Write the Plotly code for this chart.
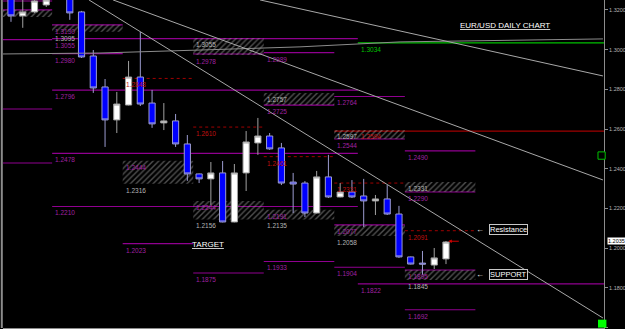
import plotly.graph_objects as go

# ---------------- candles (daily bars, index = bar number) ----------------
day = [0, 1, 2, 3, 5, 6, 7, 8, 9, 10, 11, 12, 13, 14, 15, 16, 17, 18, 19, 20,
       21, 22, 23, 24, 25, 26, 27, 28, 29, 30, 31, 32, 33, 34, 35, 36, 37]
open_ = [1.3270, 1.3170, 1.3190, 1.3225, 1.3260, 1.3190, 1.2968, 1.2812, 1.2646, 1.2721,
         1.2862, 1.2731, 1.2631, 1.2641, 1.2525, 1.2374, 1.2349, 1.2379, 1.2132, 1.2379,
         1.2530, 1.2565, 1.2505, 1.2333, 1.2328, 1.2177, 1.2359, 1.2258, 1.2283, 1.2263,
         1.2238, 1.2248, 1.2172, 1.1956, 1.1925, 1.1915, 1.1946]
high = [1.3285, 1.3255, 1.3255, 1.3260, 1.3275, 1.3195, 1.2998, 1.2852, 1.2787, 1.2943,
        1.3089, 1.2797, 1.2731, 1.2676, 1.2570, 1.2376, 1.2434, 1.2439, 1.2424, 1.2590,
        1.2656, 1.2580, 1.2530, 1.2379, 1.2338, 1.2389, 1.2470, 1.2328, 1.2343, 1.2349,
        1.2268, 1.2318, 1.2213, 1.1958, 1.1986, 1.2001, 1.2036]
low = [1.3140, 1.3110, 1.3185, 1.3215, 1.3150, 1.2958, 1.2782, 1.2510, 1.2580, 1.2719,
       1.2716, 1.2606, 1.2595, 1.2510, 1.2339, 1.2328, 1.2218, 1.2130, 1.2130, 1.2288,
       1.2470, 1.2495, 1.2318, 1.2177, 1.2157, 1.2175, 1.2253, 1.2256, 1.2253, 1.2107,
       1.2167, 1.2167, 1.1951, 1.1918, 1.1865, 1.1895, 1.1920]
close = [1.3170, 1.3190, 1.3245, 1.3250, 1.3185, 1.2963, 1.2807, 1.2646, 1.2726, 1.2862,
         1.2726, 1.2626, 1.2641, 1.2525, 1.2374, 1.2349, 1.2379, 1.2132, 1.2379, 1.2535,
         1.2565, 1.2500, 1.2328, 1.2323, 1.2177, 1.2359, 1.2258, 1.2283, 1.2258, 1.2238,
         1.2248, 1.2172, 1.1956, 1.1920, 1.1920, 1.1951, 1.2031]

# ---------------- pivot / level lines ----------------
purple_price = [1.3245, 1.3200, 1.3050, 1.2701, 1.2429, 1.3055, 1.3125, 1.2980, 1.2796, 1.2478,
                1.2210, 1.2023, 1.2978, 1.1875, 1.2985, 1.2721, 1.1933, 1.2764, 1.2550, 1.2117,
                1.1904, 1.1820, 1.2490, 1.2283, 1.1890, 1.1690]
purple_x0 = [-1, -1, -1, -1, -1, 3.5, 3.5, 3.5, 3.5, 3.5,
             3.5, 9.5, 15.5, 15.5, 21.5, 21.5, 21.5, 27.5, 27.5, 27.5,
             27.5, 29.5, 33.5, 33.5, 33.5, 33.5]
purple_x1 = [3.5, 3.5, 3.5, 3.5, 3.5, 29.5, 9.5, 9.5, 29.5, 29.5,
             29.5, 15.5, 21.5, 21.5, 27.5, 27.5, 27.5, 33.5, 33.5, 33.5,
             33.5, 50.5, 39.5, 39.5, 39.5, 39.5]

red_dot_price = [1.2855, 1.2610, 1.2461, 1.2328, 1.2088]
red_dot_x0 = [9.5, 15.5, 21.5, 27.5, 33.5]
red_dot_x1 = [15.5, 21.5, 27.5, 33.5, 39.5]

red_solid_price = [1.2590]
red_solid_x0 = [27.5]
red_solid_x1 = [50.5]

green_price = [1.3034]
green_x0 = [29.5]
green_x1 = [50.5]

# hatched zones
zone_x0 = [-1, 3.5, 9.5, 15.5, 15.5, 21.5, 21.5, 27.5, 27.5, 33.5, 33.5]
zone_x1 = [3.5, 9.5, 15.5, 21.5, 21.5, 27.5, 27.5, 33.5, 33.5, 39.5, 39.5]
zone_lo = [1.3165, 1.3090, 1.2325, 1.2973, 1.2145, 1.2721, 1.2145, 1.2550, 1.2061, 1.2283, 1.1840]
zone_hi = [1.3200, 1.3125, 1.2440, 1.3059, 1.2238, 1.2782, 1.2193, 1.2595, 1.2117, 1.2333, 1.1890]

# level labels: text, x start, price, kind
label_text = ["1.2980", "1.2796", "1.2478", "1.2210", "1.3055", "1.3130", "1.2444", "1.2023",
              "1.2978", "1.2244", "1.1875", "1.2989", "1.2725", "1.2191", "1.1933", "1.2764",
              "1.2544", "1.2077", "1.1904", "1.1822", "1.2490", "1.2290", "1.1895", "1.1692",
              "1.3095", "1.2316", "1.3055", "1.2156", "1.2757", "1.2135", "1.2597", "1.2058",
              "1.2331", "1.1845",
              "1.2848", "1.2610", "1.2461", "1.2594", "1.2331", "1.2091",
              "1.3034"]
label_x = [3.5, 3.5, 3.5, 3.5, 3.5, 3.5, 9.5, 9.5,
           15.5, 15.5, 15.5, 21.5, 21.5, 21.5, 21.5, 27.5,
           27.5, 27.5, 27.5, 29.5, 33.5, 33.5, 33.5, 33.5,
           3.5, 9.5, 15.5, 15.5, 21.5, 21.5, 27.5, 27.5,
           33.5, 33.5,
           9.5, 15.5, 21.5, 29.5, 27.5, 33.5,
           29.5]
label_price = [1.2980, 1.2796, 1.2478, 1.2210, 1.3055, 1.3125, 1.2440, 1.2023,
               1.2973, 1.2238, 1.1875, 1.2985, 1.2721, 1.2193, 1.1933, 1.2764,
               1.2550, 1.2117, 1.1904, 1.1820, 1.2490, 1.2283, 1.1890, 1.1690,
               1.3090, 1.2325, 1.3059, 1.2145, 1.2782, 1.2145, 1.2595, 1.2061,
               1.2333, 1.1840,
               1.2855, 1.2610, 1.2461, 1.2595, 1.2328, 1.2088,
               1.3034]
label_kind = ["p"] * 24 + ["g"] * 10 + ["r"] * 6 + ["G"]

# trend lines
trend_x0 = [6.63, 21.18, 8.68]
trend_p0 = [1.32504, 1.32504, 1.32504]
trend_x1 = [50.35, 50.35, 50.35]
trend_p1 = [1.16484, 1.28675, 1.23436]

# slow moving average
ma_x = [-0.94, 7.57, 16.08, 24.58, 33.09, 41.59, 50.35]
ma_y = [1.2978, 1.2983, 1.2998, 1.3014, 1.3039, 1.3046, 1.3054]

y_ticks = [1.16, 1.18, 1.20, 1.22, 1.24, 1.26, 1.28, 1.30, 1.32]
last_price = 1.2035

PURPLE = "#900090"
PURPLE_TXT = "#a020a0"
GRAY_TXT = "#b4b4b4"
RED_LINE = "#a00000"
RED_TXT = "#c01010"
GREEN = "#00c000"
FONT = "Liberation Sans"

fig = go.Figure()

fig.add_trace(go.Scatter(x=ma_x, y=ma_y, mode="lines",
                         line=dict(color="#8c8c8c", width=1), hoverinfo="skip"))

fig.add_trace(go.Candlestick(
    x=day, open=open_, high=high, low=low, close=close,
    increasing=dict(fillcolor="#ffffff", line=dict(color="#a0a0a0", width=1)),
    decreasing=dict(fillcolor="#0000ff", line=dict(color="#9c9cd0", width=1)),
    whiskerwidth=0))

fig.add_trace(go.Bar(
    x=[(a + b) / 2 for a, b in zip(zone_x0, zone_x1)],
    y=[h - l for h, l in zip(zone_hi, zone_lo)],
    base=zone_lo,
    width=[b - a for a, b in zip(zone_x0, zone_x1)],
    marker=dict(color="rgba(0,0,0,0)", line=dict(width=0),
                pattern=dict(shape="/", fgcolor="#a0a0a0", bgcolor="rgba(0,0,0,0)",
                             size=4, solidity=0.35, fillmode="overlay")),
    hoverinfo="skip"))

shapes = []
for p, a, b in zip(purple_price, purple_x0, purple_x1):
    shapes.append(dict(type="line", x0=a, x1=b, y0=p, y1=p, layer="below",
                       line=dict(color=PURPLE, width=1.2)))
for p, a, b in zip(red_dot_price, red_dot_x0, red_dot_x1):
    shapes.append(dict(type="line", x0=a, x1=b, y0=p, y1=p, layer="below",
                       line=dict(color=RED_LINE, width=1, dash="dot")))
for p, a, b in zip(red_solid_price, red_solid_x0, red_solid_x1):
    shapes.append(dict(type="line", x0=a, x1=b, y0=p, y1=p, layer="below",
                       line=dict(color=RED_LINE, width=1.2)))
for p, a, b in zip(green_price, green_x0, green_x1):
    shapes.append(dict(type="line", x0=a, x1=b, y0=p, y1=p, layer="below",
                       line=dict(color=GREEN, width=1.2)))
for a, pa, b, pb in zip(trend_x0, trend_p0, trend_x1, trend_p1):
    shapes.append(dict(type="line", x0=a, x1=b, y0=pa, y1=pb, layer="above",
                       line=dict(color="#a8a8a8", width=1)))
# left frame line
shapes.append(dict(type="line", xref="paper", yref="paper", x0=-0.002, x1=-0.002, y0=0, y1=1,
                   line=dict(color="#8c8c8c", width=2)))
# small markers on right edge
shapes.append(dict(type="rect", xref="paper", x0=0.990, x1=1.002, y0=1.2448, y1=1.2485,
                   line=dict(color=GREEN, width=1), fillcolor="#000000"))
shapes.append(dict(type="rect", xref="paper", x0=0.990, x1=1.004, y0=1.1600, y1=1.1640,
                   line=dict(width=0), fillcolor="#00ff00"))

annotations = []
color_map = {"p": PURPLE_TXT, "g": GRAY_TXT, "r": RED_TXT, "G": GREEN}
for t, x, p, k in zip(label_text, label_x, label_price, label_kind):
    annotations.append(dict(x=x, y=p, text=t, showarrow=False, xanchor="left", yanchor="top",
                            xshift=1, yshift=-1,
                            font=dict(family=FONT, size=6.5, color=color_map[k])))

annotations += [
    dict(x=42.0, y=1.3124, text="EUR/USD DAILY CHART", showarrow=False,
         font=dict(family=FONT, size=8, color="#ffffff", lineposition="under")),
    dict(x=16.75, y=1.2021, text="TARGET", showarrow=False,
         font=dict(family=FONT, size=8, color="#ffffff", lineposition="under")),
    dict(x=42.35, y=1.2092, text="Resistance", showarrow=False, bordercolor="#c8c8c8",
         borderwidth=1, borderpad=0, bgcolor="#000000",
         font=dict(family=FONT, size=7.5, color="#ffffff")),
    dict(x=39.9, y=1.2092, text="←", showarrow=False,
         font=dict(family=FONT, size=8, color="#ffffff")),
    dict(x=42.35, y=1.1868, text="SUPPORT", showarrow=False, bordercolor="#c8c8c8",
         borderwidth=1, borderpad=0, bgcolor="#000000",
         font=dict(family=FONT, size=7.5, color="#ffffff")),
    dict(x=39.9, y=1.1868, text="←", showarrow=False,
         font=dict(family=FONT, size=8, color="#ffffff")),
    dict(x=37.2, y=last_price, ax=12, ay=0, text="", showarrow=True, arrowhead=2,
         arrowsize=0.7, arrowwidth=1, arrowcolor="#d00000"),
    dict(xref="paper", x=1, y=last_price, text=f"{last_price:.4f}", showarrow=False,
         xanchor="left", xshift=3, bgcolor="#ffffff", borderpad=0,
         font=dict(family=FONT, size=5.5, color="#000000")),
]

fig.update_layout(
    width=625, height=329,
    margin=dict(l=3, r=21, t=0, b=1),
    paper_bgcolor="#000000", plot_bgcolor="#000000",
    showlegend=False, boxgap=0.25,
    shapes=shapes, annotations=annotations,
    xaxis=dict(range=[-0.68, 50.44], showticklabels=False, showgrid=False, zeroline=False,
               showline=True, linecolor="#8c8c8c", linewidth=1, ticks="",
               rangeslider=dict(visible=False), fixedrange=True),
    yaxis=dict(range=[1.1598, 1.3250], side="right", showgrid=False, zeroline=False,
               showline=True, linecolor="#8c8c8c", linewidth=1, ticks="outside",
               ticklen=3, tickcolor="#8c8c8c", tickvals=y_ticks,
               ticktext=[f"{v:.4f}" for v in y_ticks],
               tickfont=dict(family=FONT, size=5.5, color="#b4b4b4")),
)

fig.write_html("out.html")
